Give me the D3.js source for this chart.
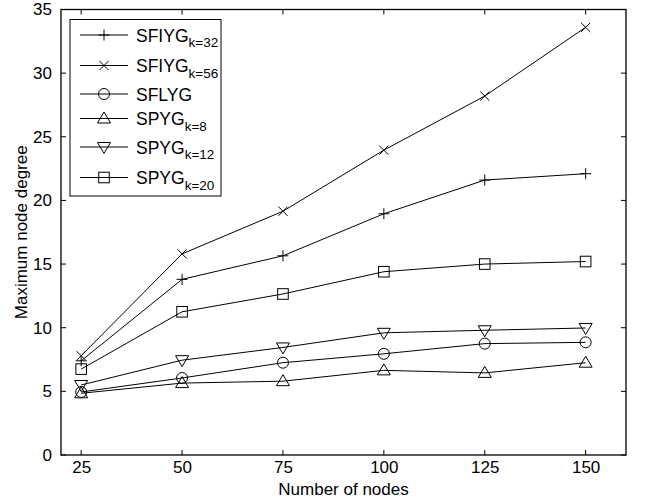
<!DOCTYPE html>
<html><head><meta charset="utf-8">
<script src="https://cdn.jsdelivr.net/npm/d3@7"></script>
<style>
body{margin:0;background:#fff;}
text{font-family:"Liberation Sans",Arial,sans-serif;fill:#000;}
</style></head>
<body><svg id="c" width="648" height="503"></svg>
<script>
const nodes = [25, 50, 75, 100, 125, 150];
const sfiyg32 = [7.4, 13.8, 15.65, 18.95, 21.6, 22.1];
const sfiyg56 = [7.8, 15.8, 19.15, 23.95, 28.2, 33.6];
const sflyg   = [4.95, 6.05, 7.25, 7.95, 8.75, 8.85];
const spyg8   = [4.85, 5.65, 5.8, 6.65, 6.45, 7.25];
const spyg12  = [5.5, 7.45, 8.45, 9.6, 9.8, 9.98];
const spyg20  = [6.75, 11.25, 12.65, 14.4, 15.0, 15.2];
const seriesNames = ["SFIYG", "SFIYG", "SFLYG", "SPYG", "SPYG", "SPYG"];
const seriesSubs = ["k=32", "k=56", "", "k=8", "k=12", "k=20"];
const markers = ["plus", "cross", "circle", "up", "down", "square"];
const xTicks = [25, 50, 75, 100, 125, 150];
const yTicks = [0, 5, 10, 15, 20, 25, 30, 35];
const xLabel = "Number of nodes";
const yLabel = "Maximum node degree";

const series = [sfiyg32, sfiyg56, sflyg, spyg8, spyg12, spyg20];
const svg = d3.select("#c");
const L = 61, R = 626, T = 9.5, B = 455;
const x = d3.scaleLinear().domain([20, 160]).range([L, R]);
const y = d3.scaleLinear().domain([0, 35]).range([B, T]);
const FS = 17;

// mirror ticks top and right
const tl = 5;
const g = svg.append("g");
xTicks.forEach(t => {
  g.append("line").attr("x1", x(t)).attr("x2", x(t)).attr("y1", B).attr("y2", B - tl).attr("stroke", "#000");
  g.append("line").attr("x1", x(t)).attr("x2", x(t)).attr("y1", T).attr("y2", T + tl).attr("stroke", "#000");
});
yTicks.forEach(t => {
  g.append("line").attr("x1", L).attr("x2", L + tl).attr("y1", y(t)).attr("y2", y(t)).attr("stroke", "#000");
  g.append("line").attr("x1", R).attr("x2", R - tl).attr("y1", y(t)).attr("y2", y(t)).attr("stroke", "#000");
});
svg.append("rect").attr("x", L).attr("y", T).attr("width", R - L).attr("height", B - T)
  .attr("fill", "none").attr("stroke", "#000").attr("stroke-width", 1.3);

// axes labels via d3 axes (text only)
const xa = svg.append("g").attr("transform", `translate(0,${B})`)
  .call(d3.axisBottom(x).tickValues(xTicks).tickSize(0).tickPadding(6));
xa.select(".domain").remove();
xa.selectAll("text").attr("font-size", FS).attr("font-family", "Liberation Sans, Arial, sans-serif").attr("fill", "#000");
const ya = svg.append("g").attr("transform", `translate(${L},0)`)
  .call(d3.axisLeft(y).tickValues(yTicks).tickSize(0).tickPadding(9));
ya.select(".domain").remove();
ya.selectAll("text").attr("font-size", FS).attr("font-family", "Liberation Sans, Arial, sans-serif").attr("fill", "#000");

svg.append("text").attr("x", (L + R) / 2).attr("y", 495).attr("text-anchor", "middle")
  .attr("font-size", FS).text(xLabel);
svg.append("text").attr("transform", `translate(27,${(T + B) / 2}) rotate(-90)`)
  .attr("text-anchor", "middle").attr("font-size", FS).text(yLabel);

function drawMarker(sel, type, cx, cy) {
  const s = 5.5;
  const gg = sel.append("g").attr("transform", `translate(${cx},${cy})`)
    .attr("fill", "none").attr("stroke", "#000").attr("stroke-width", 1);
  if (type === "plus") {
    gg.append("path").attr("d", `M${-s},0H${s}M0,${-s}V${s}`);
  } else if (type === "cross") {
    const c = 4.6;
    gg.append("path").attr("d", `M${-c},${-c}L${c},${c}M${-c},${c}L${c},${-c}`);
  } else if (type === "circle") {
    gg.append("circle").attr("r", 5.5);
  } else if (type === "square") {
    gg.append("rect").attr("x", -5.3).attr("y", -5.3).attr("width", 10.6).attr("height", 10.6);
  } else if (type === "up") {
    gg.append("path").attr("d", `M0,-6.5L6.5,4.5L-6.5,4.5Z`);
  } else if (type === "down") {
    gg.append("path").attr("d", `M0,6.5L6.5,-4.5L-6.5,-4.5Z`);
  }
}

const line = d3.line().x((d, i) => x(nodes[i])).y(d => y(d));
series.forEach((s, k) => {
  svg.append("path").datum(s).attr("d", line).attr("fill", "none").attr("stroke", "#000").attr("stroke-width", 1);
  s.forEach((v, i) => drawMarker(svg, markers[k], x(nodes[i]), y(v)));
});

// legend
const lg = svg.append("g");
lg.append("rect").attr("x", 70).attr("y", 19.5).attr("width", 151).attr("height", 176.5)
  .attr("fill", "#fff").attr("stroke", "#000").attr("stroke-width", 1);
const rowY = [35, 65.5, 94, 118.5, 147, 177.5];
seriesNames.forEach((n, k) => {
  const yy = rowY[k];
  lg.append("line").attr("x1", 80).attr("x2", 128).attr("y1", yy).attr("y2", yy).attr("stroke", "#000");
  drawMarker(lg, markers[k], 104, yy);
  const t = lg.append("text").attr("x", 136).attr("y", yy + 6.5).attr("font-size", 17.5);
  t.append("tspan").text(n);
  if (seriesSubs[k]) t.append("tspan").attr("dy", 5.5).attr("font-size", 13.5).text(seriesSubs[k]);
});
</script></body></html>
